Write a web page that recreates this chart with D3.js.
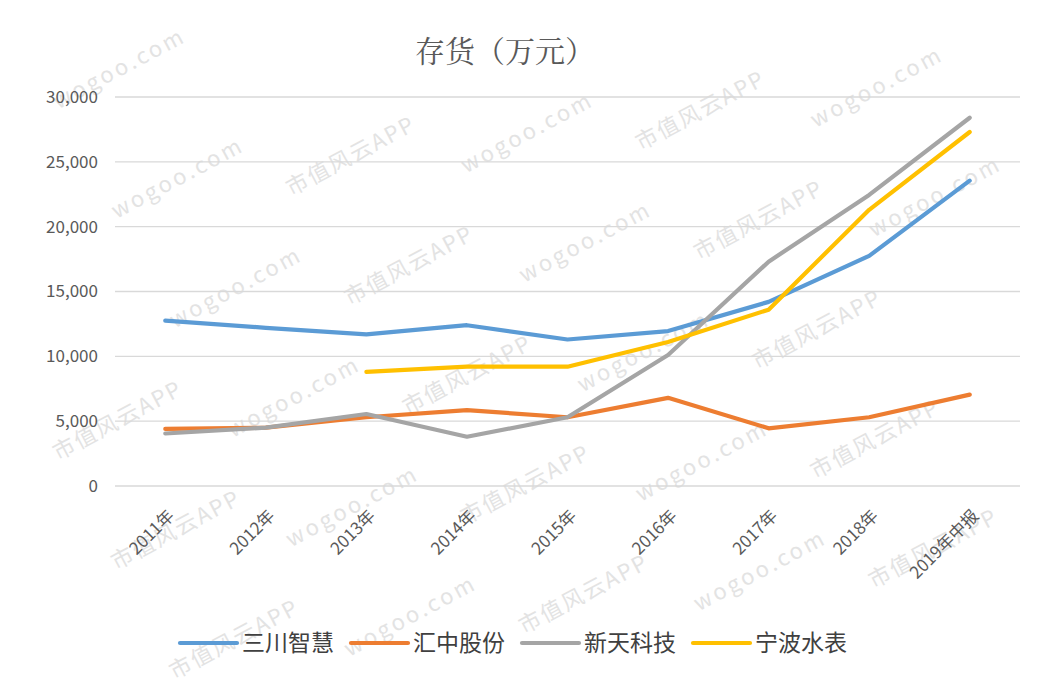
<!DOCTYPE html>
<html><head><meta charset="utf-8">
<script src="https://cdn.jsdelivr.net/npm/d3@7"></script>
<style>body{margin:0;background:#fff}svg{display:block}</style>
</head><body>
<svg id="c" width="1042" height="694"></svg>
<script>
const categories = ["2011年","2012年","2013年","2014年","2015年","2016年","2017年","2018年","2019年中报"];
const seriesNames = ["三川智慧","汇中股份","新天科技","宁波水表"];
const sanchuan = [12750, 12200, 11700, 12400, 11300, 11950, 14200, 17750, 23550];
const huizhong = [4400, 4500, 5300, 5850, 5300, 6800, 4450, 5300, 7050];
const xintian = [4050, 4500, 5550, 3800, 5300, 10100, 17300, 22450, 28400];
const ningbo = [null, null, 8800, 9200, 9200, 11100, 13600, 21300, 27300];
const yTicks = [0, 5000, 10000, 15000, 20000, 25000, 30000];
const colors = ["#5B9BD5","#ED7D31","#A5A5A5","#FFC000"];
const title = "存货（万元）";
const watermarks = ["wogoo.com", "市值风云APP"];

const svg = d3.select("#c");
const font = "'Noto Sans CJK SC', 'Noto Sans', sans-serif";
const W = 1042, H = 694;

// watermark (faint, rotated, only fully visible copies)
const wm = svg.append("g").attr("fill","#e3e3e3").attr("font-family",font).attr("font-size",22);
const ang = -28 * Math.PI/180;
for (let r = -12; r < 20; r++) {
  for (let c = -6; c < 8; c++) {
    const u = c*330 + (r%2 ? 165 : 0);
    const v = r*62;
    const px = u*Math.cos(ang) - v*Math.sin(ang);
    const py = u*Math.sin(ang) + v*Math.cos(ang);
    if (px < -50 || px > W || py < -50 || py > H + 80) continue;
    const idx = ((r % 2) + 2) % 2;
    const t = wm.append("text").attr("transform",`translate(${px},${py}) rotate(-28)`)
      .attr("letter-spacing", idx===0 ? 3 : 2).text(watermarks[idx]);
    const b = t.node().getBoundingClientRect();
    if (b.left < 4 || b.top < 4 || b.right > W-4 || b.bottom > H-4) t.remove();
  }
}

const x = d3.scaleBand().domain(categories).range([115, 1020]);
const y = d3.scaleLinear().domain([0, 30000]).range([486, 97]);

// gridlines
svg.append("g").selectAll("line").data(yTicks).join("line")
  .attr("x1",115).attr("x2",1020)
  .attr("y1",d=>y(d)).attr("y2",d=>y(d))
  .attr("stroke","#d9d9d9").attr("stroke-width",1.3);

// y axis
const yAxis = svg.append("g").attr("transform","translate(98,0)")
  .call(d3.axisLeft(y).tickValues(yTicks).tickSize(0).tickPadding(0).tickFormat(d3.format(",")));
yAxis.select(".domain").remove();
yAxis.selectAll("text").attr("font-family",font).attr("font-size",17).attr("fill","#595959");

// x axis
const xAxis = svg.append("g").attr("transform","translate(0,486)")
  .call(d3.axisBottom(x).tickSize(0).tickPadding(0));
xAxis.select(".domain").remove();
xAxis.selectAll("text")
  .attr("font-family",font).attr("font-size",17).attr("fill","#595959")
  .attr("text-anchor","end").attr("dy",0)
  .attr("transform","translate(10,31) rotate(-45)");

// lines
const all = [sanchuan, huizhong, xintian, ningbo];
const line = d3.line()
  .defined(d => d.v !== null)
  .x(d => x(d.c) + x.bandwidth()/2)
  .y(d => y(d.v));
all.forEach((s,i) => {
  svg.append("path")
    .datum(s.map((v,j)=>({c:categories[j], v})))
    .attr("fill","none").attr("stroke",colors[i]).attr("stroke-width",4.2)
    .attr("stroke-linejoin","round").attr("stroke-linecap","round")
    .attr("d", line);
});

// title
svg.append("text").attr("x",505).attr("y",62).attr("text-anchor","middle")
  .attr("font-family","'Noto Serif CJK SC', 'Noto Sans CJK SC', serif").attr("font-size",30)
  .attr("fill","#595959").text(title);

// legend
const legX = [180, 351, 522, 693];
const leg = svg.append("g");
seriesNames.forEach((n,i)=>{
  const g = leg.append("g").attr("transform",`translate(${legX[i]},643)`);
  g.append("line").attr("x1",0).attr("x2",57).attr("y1",0).attr("y2",0)
    .attr("stroke",colors[i]).attr("stroke-width",4.2).attr("stroke-linecap","round");
  g.append("text").attr("x",62).attr("y",8).attr("font-family",font).attr("font-size",23)
    .attr("fill","#404040").text(n);
});
</script>
</body></html>
